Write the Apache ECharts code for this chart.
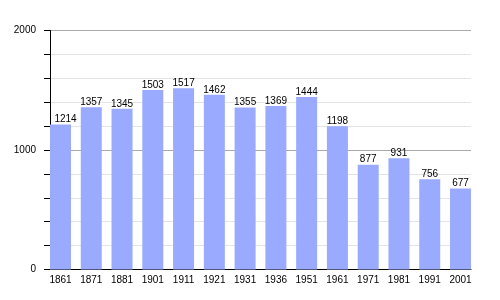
<!DOCTYPE html>
<html>
<head>
<meta charset="utf-8">
<script src="https://cdn.jsdelivr.net/npm/echarts@6/dist/echarts.min.js"></script>
<style>html,body{margin:0;padding:0;background:#fff}#c{width:500px;height:300px}</style>
</head>
<body>
<div id="c"></div>
<script>
var years = ['1861','1871','1881','1901','1911','1921','1931','1936','1951','1961','1971','1981','1991','2001'];
var population = [1214,1357,1345,1503,1517,1462,1355,1369,1444,1198,877,931,756,677];
var yLabels = [0,1000,2000];

var chart = echarts.init(document.getElementById('c'), null, {renderer:'canvas'});
var font = 'Liberation Sans, Arial, sans-serif';
var gTop = 30.5, gBottom = 30.5;
var barData = population.map(function(v, i){
  return i === 0 ? {value:v, label:{offset:[5,0]}} : v;
});
chart.setOption({
  animation:false,
  grid:[
    {left:50, right:29, top:gTop, bottom:gBottom},
    {left:60.5, right:39.5, top:gTop, bottom:gBottom}
  ],
  xAxis:[
    {gridIndex:0, type:'value', min:0, max:1,
     axisLine:{show:true, lineStyle:{color:'#000', width:1}},
     axisTick:{show:false}, axisLabel:{show:false}, splitLine:{show:false}},
    {gridIndex:1, type:'category', data:years, boundaryGap:false,
     axisLine:{show:false}, axisTick:{show:false},
     axisLabel:{color:'#000', fontSize:10, fontFamily:font, margin:6, interval:0}}
  ],
  yAxis:[
    {gridIndex:0, type:'value', min:0, max:2000, interval:200,
     axisLine:{show:true, lineStyle:{color:'#000', width:1}},
     axisTick:{show:true, inside:false, length:6, lineStyle:{color:'#000'}},
     axisLabel:{color:'#000', fontSize:10, fontFamily:font, margin:14,
       formatter:function(v){return yLabels.indexOf(v)>=0 ? String(v) : '';}},
     splitLine:{show:true, lineStyle:{color:['#aaaaaa','#e4e4e4','#e4e4e4','#e4e4e4','#e4e4e4'], width:1}}},
    {gridIndex:1, type:'value', min:0, max:2000, show:false, splitLine:{show:false}}
  ],
  series:[{
    type:'bar', xAxisIndex:1, yAxisIndex:1, data:barData, barWidth:21,
    itemStyle:{color:'#99aaff'},
    label:{show:true, position:'top', distance:0, color:'#000', fontSize:10, fontFamily:font}
  }]
});
</script>
</body>
</html>
